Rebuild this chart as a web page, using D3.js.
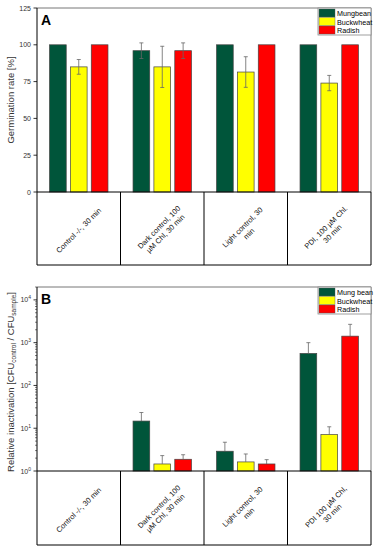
<!DOCTYPE html>
<html><head><meta charset="utf-8">
<script src="https://cdn.jsdelivr.net/npm/d3@7"></script>
<style>
html,body{margin:0;padding:0;background:#fff;}
svg{display:block;font-family:"Liberation Sans",Arial,sans-serif;}
</style></head>
<body><svg id="c" width="375" height="550"></svg>
<script>
// ---------- data ----------
const categoriesA = [["Control -/-, 30 min"],["Dark control, 100","µM Chl, 30 min"],["Light control, 30","min"],["PDI, 100 µM Chl.","30 min"]];
const categoriesB = [["Control -/-, 30 min"],["Dark control, 100","µM Chl, 30 min"],["Light control, 30","min"],["PDI 100 µM Chl,","30 min"]];
const seriesA = ["Mungbean","Buckwheat","Radish"];
const seriesB = ["Mung bean","Buckwheat","Radish"];
const colors = ["#00553a","#ffff00","#ff0000"];
// Germination rate [%]
const germMung = [100, 96, 100, 100];
const germBuck = [85, 85, 81.5, 74];
const germRad  = [100, 96, 100, 100];
const germMungErr = [0, 5.3, 0, 0];
const germBuckErr = [5, 14, 10.4, 5.2];
const germRadErr  = [0, 5.3, 0, 0];
const germTicks = [0,25,50,75,100,125];
// Relative inactivation (log scale)
const inactMung = [null, 14.7, 2.9, 560];
const inactBuck = [null, 1.46, 1.63, 7.1];
const inactRad  = [null, 1.88, 1.46, 1420];
const inactMungErr = [null, 8.6, 1.8, 440];
const inactBuckErr = [null, 0.83, 0.87, 3.7];
const inactRadErr  = [null, 0.52, 0.38, 1260];
const inactTicks = [1,10,100,1000,10000];

const svg = d3.select("#c");
const L = 37, R = 371;

function drawPanel(o){
  const g = svg.append("g");
  const x = d3.scaleBand().domain(d3.range(o.cats.length)).range([L,R]);
  const inner = d3.scaleBand().domain(d3.range(3)).range([0,x.bandwidth()]).paddingInner(0.2).paddingOuter(0.6);
  const y = o.y;
  // frame (gray) top/right
  g.append("path").attr("d",`M${L},${o.top}H${R}V${o.bottom}`).attr("fill","none").attr("stroke","#777").attr("stroke-width",1);
  // bars
  const vals=[o.v0,o.v1,o.v2], errs=[o.e0,o.e1,o.e2];
  vals.forEach((arr,s)=>{
    arr.forEach((v,i)=>{
      if(v==null) return;
      const bx = x(i)+inner(s), bw = inner.bandwidth();
      g.append("rect").attr("x",bx).attr("y",y(v)).attr("width",bw).attr("height",o.bottom-y(v))
        .attr("fill",colors[s]).attr("stroke","#444").attr("stroke-width",0.7);
      const e = errs[s][i];
      if(e){
        const cx = bx+bw/2;
        const yt = y(v+e), yb = o.log ? y(v) : y(v-e);
        g.append("line").attr("x1",cx).attr("x2",cx).attr("y1",yt).attr("y2",yb).attr("stroke","#666").attr("stroke-width",0.8);
        g.append("line").attr("x1",cx-2).attr("x2",cx+2).attr("y1",yt).attr("y2",yt).attr("stroke","#666").attr("stroke-width",0.8);
        if(!o.log) g.append("line").attr("x1",cx-2).attr("x2",cx+2).attr("y1",yb).attr("y2",yb).attr("stroke","#666").attr("stroke-width",0.8);
      }
    });
  });
  // y axis
  const ax = g.append("g").attr("transform",`translate(${L},0)`);
  ax.append("line").attr("x1",0).attr("x2",0).attr("y1",o.top).attr("y2",o.bottom).attr("stroke","#000").attr("stroke-width",1);
  o.ticks.forEach(t=>{
    ax.append("line").attr("x1",-3.5).attr("x2",0).attr("y1",y(t)).attr("y2",y(t)).attr("stroke","#000").attr("stroke-width",0.8);
    const tx = ax.append("text").attr("x",-6).attr("y",y(t)+2.5).attr("text-anchor","end").attr("font-size",7).attr("fill","#333");
    if(o.log){
      tx.text("10");
      tx.append("tspan").attr("dy",-3).attr("font-size",5).text(Math.round(Math.log10(t)));
    } else tx.text(t);
  });
  if(o.log){
    for(let d=0; d<4; d++) for(let m=2;m<=9;m++){
      const t = m*Math.pow(10,d);
      ax.append("line").attr("x1",-2).attr("x2",0).attr("y1",y(t)).attr("y2",y(t)).attr("stroke","#000").attr("stroke-width",0.5);
    }
    for(let m=2;m<=2;m++){
      const t=m*1e4; if(y(t)>=o.top-0.5) ax.append("line").attr("x1",-2).attr("x2",0).attr("y1",y(t)).attr("y2",y(t)).attr("stroke","#000").attr("stroke-width",0.5);
    }
  }
  // y label
  const yl = g.append("text").attr("transform",`translate(14,${o.ylabY}) rotate(-90)`).attr("text-anchor","middle")
     .attr("font-size",9.5).attr("fill","#333");
  o.ylabel(yl);
  // panel letter
  g.append("text").attr("x",41).attr("y",o.top+17).attr("font-size",14).attr("font-weight","bold").text(o.letter);
  // category table
  const tb = o.tableBottom;
  g.append("line").attr("x1",L).attr("x2",R).attr("y1",o.bottom).attr("y2",o.bottom).attr("stroke","#000").attr("stroke-width",1);
  g.append("line").attr("x1",L).attr("x2",R).attr("y1",tb).attr("y2",tb).attr("stroke","#000").attr("stroke-width",1);
  const edges = d3.range(o.cats.length+1).map(i=> i<o.cats.length ? x(i) : R);
  edges.forEach(ex=>{
    g.append("line").attr("x1",ex).attr("x2",ex).attr("y1",o.bottom).attr("y2",tb).attr("stroke","#000").attr("stroke-width",1);
  });
  o.cats.forEach((lines,i)=>{
    const cx = x(i)+x.bandwidth()/2, cy = (o.bottom+tb)/2+2;
    const t = g.append("text").attr("transform",`translate(${cx},${cy}) rotate(-45)`).attr("text-anchor","middle").attr("font-size",7.5).attr("fill","#111");
    const n = lines.length;
    lines.forEach((ln,k)=>{
      t.append("tspan").attr("x",0).attr("y",(k-(n-1)/2)*9+2.5).text(ln);
    });
  });
  // legend
  const lg = g.append("g").attr("transform",`translate(318,${o.top})`);
  lg.append("rect").attr("x",0).attr("y",0).attr("width",53).attr("height",27).attr("fill","#fff").attr("stroke","#888").attr("stroke-width",0.8);
  o.series.forEach((s,k)=>{
    lg.append("rect").attr("x",1).attr("y",1+k*8.5).attr("width",16).attr("height",8).attr("fill",colors[k]).attr("stroke","#555").attr("stroke-width",0.4);
    lg.append("text").attr("x",19).attr("y",1+k*8.5+7).attr("font-size",7.2).attr("fill","#000").text(s);
  });
}

drawPanel({
  top:8, bottom:192, tableBottom:265, letter:"A",
  y: d3.scaleLinear().domain([0,125]).range([192,8]),
  ticks: germTicks, log:false,
  cats: categoriesA, series: seriesA,
  v0: germMung, v1: germBuck, v2: germRad, e0: germMungErr, e1: germBuckErr, e2: germRadErr,
  ylabY: 100,
  ylabel: t=>t.text("Germination rate [%]")
});
drawPanel({
  top:287, bottom:471, tableBottom:545, letter:"B",
  y: d3.scaleLog().domain([1,20000]).range([471,287]),
  ticks: inactTicks, log:true,
  cats: categoriesB, series: seriesB,
  v0: inactMung, v1: inactBuck, v2: inactRad, e0: inactMungErr, e1: inactBuckErr, e2: inactRadErr,
  ylabY: 382,
  ylabel: t=>{
    t.append("tspan").text("Relative inactivation [CFU");
    t.append("tspan").attr("font-size",6.5).attr("dy",2).text("control");
    t.append("tspan").attr("dy",-2).text(" / CFU");
    t.append("tspan").attr("font-size",6.5).attr("dy",2).text("sample");
    t.append("tspan").attr("dy",-2).text("]");
  }
});
</script></body></html>
